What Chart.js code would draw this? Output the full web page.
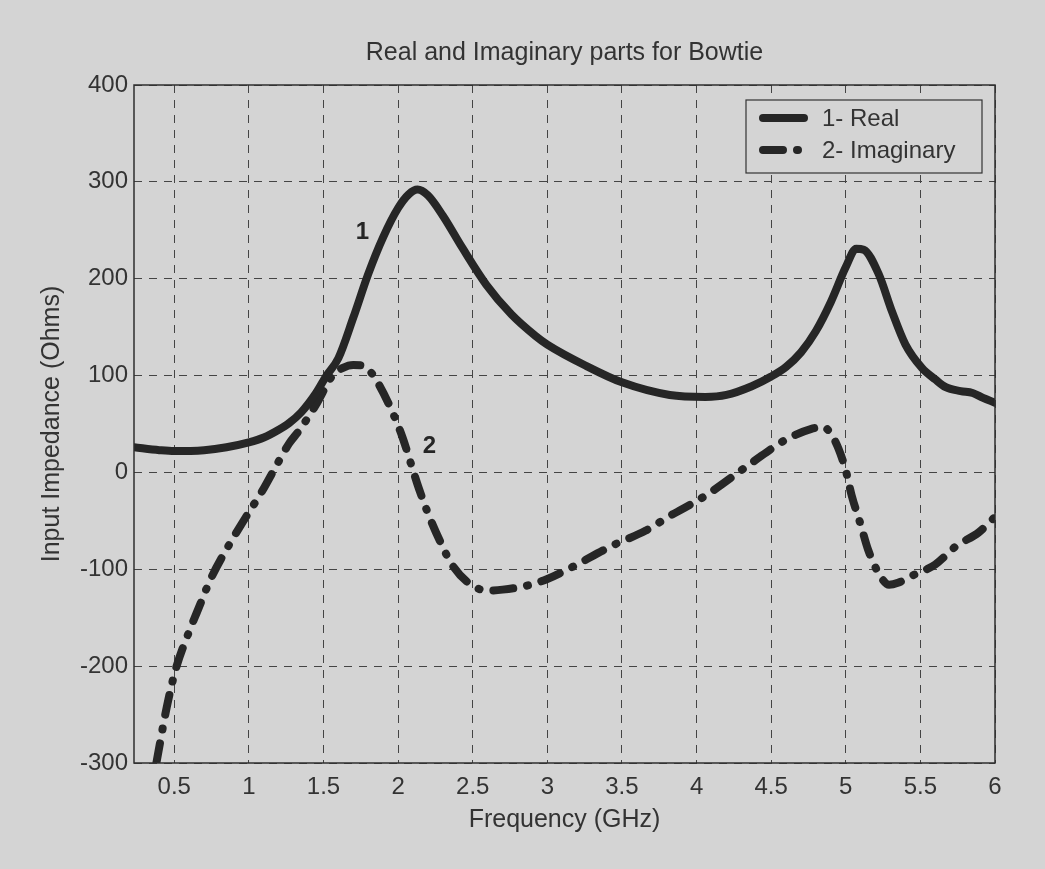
<!DOCTYPE html>
<html>
<head>
<meta charset="utf-8">
<script src="https://cdn.jsdelivr.net/npm/chart.js@4.4.1/dist/chart.umd.min.js"></script>
<style>
  html, body { margin: 0; padding: 0; background: #d5d5d5; }
  canvas { display: block; }
</style>
</head>
<body>
<canvas id="bowtieChart" width="1045" height="869"></canvas>
<script>
// frequency sweep (GHz) and input impedance (Ohms) of the bowtie
const realFreq = [0.23, 0.4, 0.5, 0.7, 0.85, 1.0, 1.1, 1.2, 1.27, 1.35, 1.45, 1.52, 1.6, 1.7, 1.8, 1.9, 2.0, 2.07, 2.13, 2.2, 2.3, 2.43, 2.59, 2.76, 2.92, 3.0, 3.26, 3.5, 3.82, 4.06, 4.2, 4.37, 4.5, 4.6, 4.7, 4.8, 4.9, 5.0, 5.07, 5.12, 5.22, 5.31, 5.4, 5.51, 5.6, 5.67, 5.77, 5.85, 5.92, 6.0];
const realOhms = [26, 23, 22, 23, 26, 31, 36, 44, 51, 62, 82, 100, 118, 160, 205, 243, 273, 287, 292, 286, 265, 232, 194, 163, 141, 132, 110, 93, 80, 78, 80, 89, 99, 109, 124, 146, 176, 212, 231, 230, 205, 166, 132, 108, 96, 88, 84, 82, 77, 72];

const imagFreq = [0.38, 0.45, 0.51, 0.6, 0.65, 0.75, 0.87, 0.98, 1.09, 1.18, 1.27, 1.34, 1.45, 1.56, 1.63, 1.7, 1.77, 1.82, 1.87, 1.96, 2.03, 2.09, 2.14, 2.21, 2.29, 2.36, 2.48, 2.6, 2.7, 2.86, 3.0, 3.15, 3.43, 3.66, 3.82, 4.06, 4.37, 4.6, 4.77, 4.85, 4.9, 4.95, 5.0, 5.04, 5.1, 5.15, 5.22, 5.29, 5.35, 5.44, 5.6, 5.74, 5.89, 6.0];
const imagOhms = [-300, -242, -203, -164, -145, -108, -74, -46, -19, 6, 30, 44, 70, 100, 108, 111, 110, 103, 91, 63, 36, 7, -17, -46, -74, -95, -115, -122, -121, -117, -110, -99, -76, -60, -45, -24, 10, 34, 45, 47, 40, 25, 2, -24, -54, -80, -104, -116, -114, -107, -95, -76, -62, -46];

const xTicks = [0.5, 1, 1.5, 2, 2.5, 3, 3.5, 4, 4.5, 5, 5.5, 6];
const yTicks = [-300, -200, -100, 0, 100, 200, 300, 400];
const seriesNames = ['1- Real', '2- Imaginary'];
const curveTags = ['1', '2'];

const FONT = '"Liberation Sans", Arial, Helvetica, sans-serif';
const INK = '#262626';
const TEXT = '#333333';
const PAPER = '#d4d4d4';

function pairUp(xs, ys) {
    return xs.map((x, i) => ({ x: x, y: ys[i] }));
}

// paper colour, axes box, curve numbers and the boxed legend
const decorations = {
    id: 'decorations',
    beforeDraw(chart) {
        const ctx = chart.ctx;
        ctx.save();
        ctx.fillStyle = PAPER;
        ctx.fillRect(0, 0, chart.width, chart.height);
        ctx.restore();
    },
    afterDraw(chart) {
        const ctx = chart.ctx;
        const area = chart.chartArea;
        const xs = chart.scales.x;
        const ys = chart.scales.y;
        ctx.save();

        // axes box
        ctx.strokeStyle = '#2e2e2e';
        ctx.lineWidth = 1.5;
        ctx.setLineDash([]);
        ctx.strokeRect(area.left, area.top, area.right - area.left, area.bottom - area.top);

        // curve numbers next to each trace
        const tagAt = [[1.76, 248], [2.21, 27]];
        ctx.font = 'bold 24px ' + FONT;
        ctx.fillStyle = INK;
        ctx.textAlign = 'center';
        ctx.textBaseline = 'middle';
        curveTags.forEach((t, i) => {
            ctx.fillText(t, xs.getPixelForValue(tagAt[i][0]), ys.getPixelForValue(tagAt[i][1]));
        });

        // legend
        const boxW = 236, boxH = 73;
        const bx = area.right - 13 - boxW;
        const by = area.top + 15;
        ctx.fillStyle = PAPER;
        ctx.fillRect(bx, by, boxW, boxH);
        ctx.strokeStyle = '#333';
        ctx.lineWidth = 1.2;
        ctx.strokeRect(bx, by, boxW, boxH);

        ctx.font = '24px ' + FONT;
        ctx.textAlign = 'left';
        ctx.textBaseline = 'middle';
        chart.data.datasets.forEach((ds, i) => {
            const ly = by + 18 + i * 32;
            ctx.save();
            ctx.strokeStyle = ds.borderColor;
            ctx.lineWidth = ds.borderWidth;
            ctx.lineCap = ds.borderCapStyle || 'butt';
            ctx.setLineDash(ds.borderDash || []);
            ctx.beginPath();
            ctx.moveTo(bx + 17, ly);
            ctx.lineTo(bx + 58, ly);
            ctx.stroke();
            ctx.restore();
            ctx.fillStyle = TEXT;
            ctx.fillText(seriesNames[i], bx + 76, ly + 1);
        });
        ctx.restore();
    }
};

const ctx = document.getElementById('bowtieChart').getContext('2d');
const bowtieChart = new Chart(ctx, {
    type: 'line',
    data: {
        datasets: [{
            label: seriesNames[0],
            data: pairUp(realFreq, realOhms),
            borderColor: INK,
            borderWidth: 8,
            borderCapStyle: 'round',
            borderJoinStyle: 'round',
            cubicInterpolationMode: 'monotone',
            pointRadius: 0,
            fill: false
        }, {
            label: seriesNames[1],
            data: pairUp(imagFreq, imagOhms),
            borderColor: INK,
            borderWidth: 8,
            borderDash: [20, 14, 1, 14],
            borderCapStyle: 'round',
            borderJoinStyle: 'round',
            cubicInterpolationMode: 'monotone',
            pointRadius: 0,
            fill: false
        }]
    },
    options: {
        responsive: false,
        animation: false,
        devicePixelRatio: 1,
        layout: { padding: { top: 0, right: 50, bottom: 0, left: 0 } },
        plugins: {
            legend: { display: false },
            tooltip: { enabled: false },
            title: {
                display: true,
                fullSize: false,
                text: 'Real and Imaginary parts for Bowtie',
                color: TEXT,
                font: { family: FONT, size: 25, weight: 'normal' },
                padding: { top: 38, bottom: 17 }
            }
        },
        scales: {
            x: {
                type: 'linear',
                min: 0.23,
                max: 6,
                afterBuildTicks: (scale) => { scale.ticks = xTicks.map(v => ({ value: v })); },
                afterFit: (scale) => { scale.height = 106; },
                ticks: {
                    color: TEXT,
                    font: { family: FONT, size: 24 },
                    padding: 10,
                    maxRotation: 0,
                    autoSkip: false,
                    callback: (v) => String(v)
                },
                grid: { color: '#444444', lineWidth: 1, drawTicks: false },
                border: { display: false, dash: [8, 7] },
                title: {
                    display: true,
                    text: 'Frequency (GHz)',
                    color: TEXT,
                    font: { family: FONT, size: 25 },
                    padding: { top: 0, bottom: 34 }
                }
            },
            y: {
                type: 'linear',
                min: -300,
                max: 400,
                afterBuildTicks: (scale) => { scale.ticks = yTicks.map(v => ({ value: v })); },
                afterFit: (scale) => { scale.width = 134; },
                ticks: {
                    color: TEXT,
                    font: { family: FONT, size: 24 },
                    padding: 6,
                    autoSkip: false,
                    callback: (v) => String(v)
                },
                grid: { color: '#444444', lineWidth: 1, drawTicks: false },
                border: { display: false, dash: [8, 7] },
                title: {
                    display: true,
                    text: 'Input Impedance (Ohms)',
                    color: TEXT,
                    font: { family: FONT, size: 25 },
                    padding: { top: 37, bottom: 0 }
                }
            }
        }
    },
    plugins: [decorations]
});
</script>
</body>
</html>
